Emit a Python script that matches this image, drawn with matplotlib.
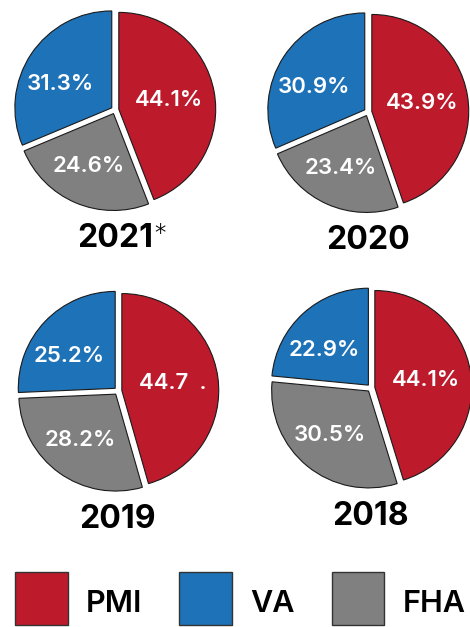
import numpy as np
import matplotlib.pyplot as plt
from matplotlib.patches import Patch, Rectangle
from matplotlib.legend_handler import HandlerPatch

plt.rcParams['font.family'] = ['Inter', 'DejaVu Sans']

# Data
years = ['2021', '2020', '2019', '2018']
title_marks = ['*', '', '', '']
pmi = [44.1, 43.9, 44.7, 44.1]
va = [31.3, 30.9, 25.2, 22.9]
fha = [24.6, 23.4, 28.2, 30.5]
pmi_labels = ['44.1%', '43.9%', '44.7  .', '44.1%']

series = ['PMI', 'VA', 'FHA']
colors = {'PMI': '#BD1A2C', 'VA': '#1E72B8', 'FHA': '#808080'}
# label placement inside each wedge: distance from centre, turn in degrees
label_dist = {'PMI': 0.53, 'FHA': 0.6, 'VA': 0.58}
label_turn = {'PMI': 0, 'FHA': -2, 'VA': 9}

# pie centres in pixels (x from left, y from top)
W, H = 470, 627
centres = [(115, 110), (368, 112), (118, 391), (371, 388)]
size = 250
lim = 1.29

fig = plt.figure(figsize=(W / 100, H / 100), dpi=100)

for i in range(4):
    cx, cy = centres[i]
    ax = fig.add_axes([(cx - size / 2) / W, 1 - (cy + size / 2) / H, size / W, size / H])
    order = ['PMI', 'FHA', 'VA']
    vals = [pmi[i], fha[i], va[i]]
    labs = [pmi_labels[i], f'{fha[i]:.1f}%', f'{va[i]:.1f}%']
    cols = [colors[s] for s in order]
    wedges, _ = ax.pie(vals, colors=cols, startangle=90, counterclock=False,
                       explode=[0.04] * 3, radius=1,
                       wedgeprops=dict(edgecolor='#1a1a1a', linewidth=0.8))
    for w, lab, s in zip(wedges, labs, order):
        ang = np.deg2rad((w.theta1 + w.theta2) / 2 + label_turn[s])
        x = w.center[0] + label_dist[s] * np.cos(ang)
        y = w.center[1] + label_dist[s] * np.sin(ang)
        ax.text(x, y, lab, ha='center', va='center', color='white',
                fontsize=16, fontweight='semibold')
    ax.set_xlim(-lim, lim)
    ax.set_ylim(-lim, lim)
    ax.set_aspect('equal')
    ax.axis('off')
    t = ax.text(0, -1.33, years[i], ha='center', va='center', color='black',
                fontsize=23, fontweight='bold')
    if title_marks[i]:
        ax.annotate(title_marks[i], xy=(1, 1), xycoords=t, ha='left', va='top',
                    fontsize=19, fontweight='light', color='black')


# square legend keys, sitting slightly lower than the text box
def square(legend, orig_handle, xdescent, ydescent, width, height, fontsize):
    return Rectangle((-xdescent, -ydescent - 1.4), width, width)


handles = [Patch(facecolor=colors[s], edgecolor='#333333', linewidth=1) for s in series]
fig.legend(handles, series, loc='lower left', bbox_to_anchor=(15 / W, 4 / H),
           ncol=3, frameon=False, prop=dict(size=22, weight='semibold'),
           handlelength=1.73, handleheight=1.73,
           handletextpad=0.6, columnspacing=1.2, borderpad=0, borderaxespad=0,
           handler_map={Patch: HandlerPatch(patch_func=square)})

fig.savefig('out.png', dpi=100)
